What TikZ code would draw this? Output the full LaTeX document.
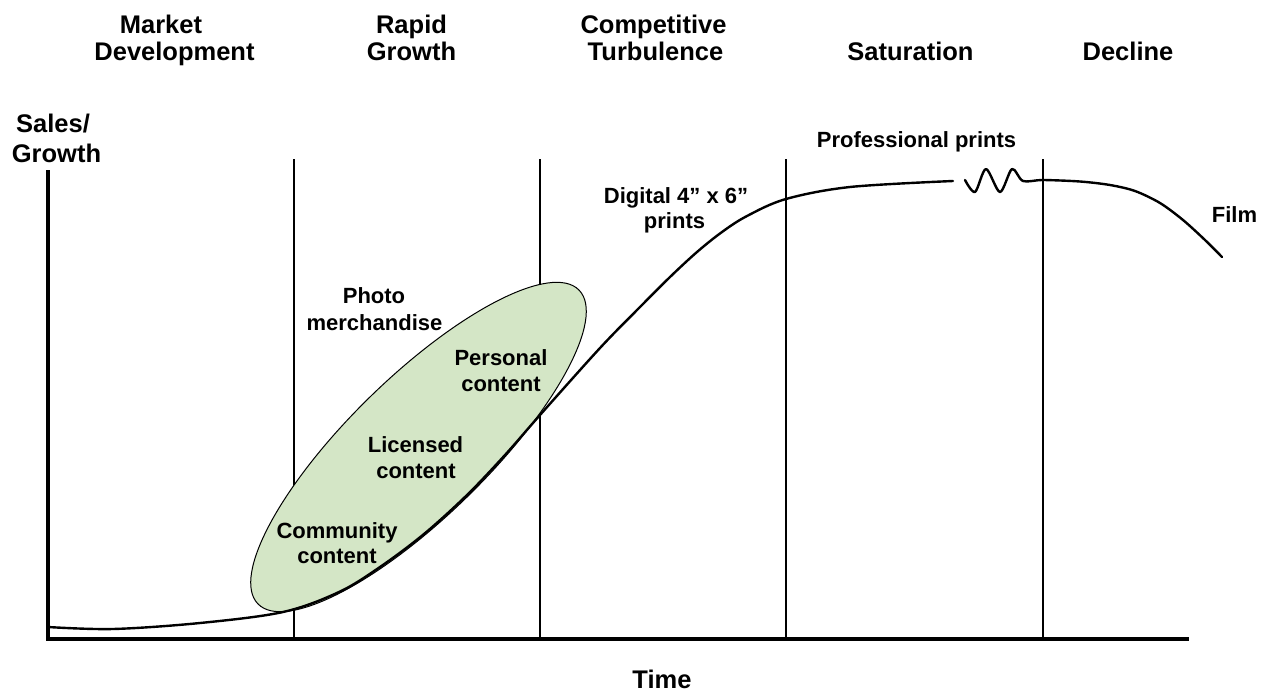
\documentclass[tikz,border=0pt]{standalone}
\usepackage{fontspec}
\setmainfont{Liberation Sans}
\usetikzlibrary{shapes.geometric}
\definecolor{blobgreen}{HTML}{D4E6C6}
\begin{document}
\begin{tikzpicture}[x=1pt,y=-1pt,
  head/.style={anchor=base,inner sep=0pt,font=\fontsize{25.5}{27}\selectfont\bfseries},
  lbl/.style={anchor=base,inner sep=0pt,font=\fontsize{22}{26}\selectfont\bfseries},
  phase/.style={line width=2pt},
  axis/.style={line width=4pt,line join=miter},
  trend/.style={line width=2.4pt,line cap=round,line join=round}]
\useasboundingbox (0,0) rectangle (1266,694);

% axes corner and ends
\coordinate (ytop) at (48,170);
\coordinate (origin) at (48,639);
\coordinate (xend) at (1189,639);

% phase separators
\foreach \n/\x in {a/294,b/540,c/786,d/1043}{
  \coordinate (\n top) at (\x,159);
  \coordinate (\n bot) at (\x,639);
  \draw[phase] (\n top) -- (\n bot);
}

% product cluster
\node[ellipse,draw=black,line width=1pt,fill=blobgreen,inner sep=0pt,
      minimum width=449pt,minimum height=139.4pt,rotate=44.35] (blob) at (418.5,447) {};

\draw[axis] (ytop) -- (origin) -- (xend);

% life-cycle curve
\draw[trend] plot[smooth,tension=0.55] coordinates {
  (48,627) (113,629) (200,623) (283,612) (339,592) (380,567) (424,534)
  (467,495) (505,455) (540,415) (600,348) (640,307) (670,277) (697,252)
  (722,232) (747,216) (786,199) (850,187) (953,181)};
\draw[trend] plot[smooth,tension=0.5] coordinates {
  (965,180) (975,192) (986,169) (1000,192) (1012,169) (1023,181)
  (1043,180) (1080,181.5) (1110,185) (1135,191) (1160,203) (1183,220)
  (1205,240) (1222,257)};

% phase headings
\node[head] (h1a) at (161,33) {Market};
\node[head] (h1b) at (174.5,60) {Development};
\node[head] (h2a) at (411.5,33) {Rapid};
\node[head] (h2b) at (411.5,60) {Growth};
\node[head] (h3a) at (653.5,33) {Competitive};
\node[head] (h3b) at (655.5,60) {Turbulence};
\node[head] (h4) at (910.5,60) {Saturation};
\node[head] (h5) at (1128,60) {Decline};

% axis titles
\node[head] (ya) at (53,132) {Sales/};
\node[head] (yb) at (56.5,162) {Growth};
\node[head] (xt) at (662,688) {Time};

% product labels
\node[lbl] (pp) at (916.5,147) {Professional prints};
\node[lbl] (dga) at (676,203) {Digital 4” x 6”};
\node[lbl] (dgb) at (674.5,228) {prints};
\node[lbl] (film) at (1234.5,222) {Film};
\node[lbl] (pma) at (374,303) {Photo};
\node[lbl] (pmb) at (374.5,330) {merchandise};
\node[lbl] (pca) at (501,365) {Personal};
\node[lbl] (pcb) at (501,391) {content};
\node[lbl] (lca) at (415.5,452) {Licensed};
\node[lbl] (lcb) at (416,478) {content};
\node[lbl] (cca) at (337,538) {Community};
\node[lbl] (ccb) at (337,563) {content};
\end{tikzpicture}
\end{document}
